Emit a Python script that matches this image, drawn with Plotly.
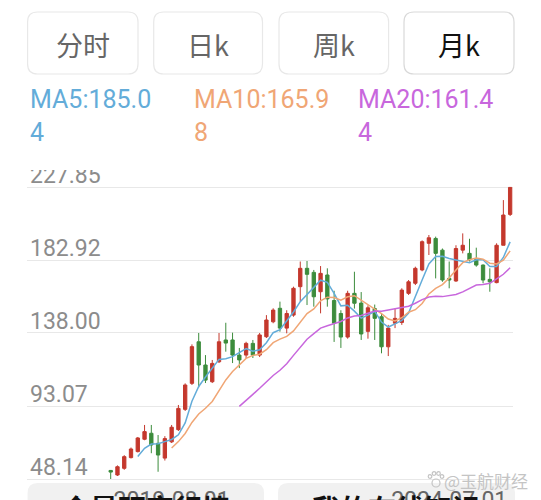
import plotly.graph_objects as go
import pandas as pd

W, H = 541, 500

# ---- data (monthly candles) ----
opens = [53.4, 50.6, 54.7, 61.3, 65.0, 72.6, 76.3, 70.1, 61.0, 71.0,
         78.5, 91.0, 107.0, 132.6, 118.3, 108.0, 120.3, 133.7, 133.7, 124.4,
         124.4, 131.6, 124.4, 135.7, 144.9, 153.2, 141.0, 149.0, 166.5, 177.8,
         175.3, 163.4, 173.7, 158.0, 150.0, 135.5, 162.4, 156.4, 139.0, 153.0,
         148.0, 129.5, 144.0, 144.5, 162.4, 168.6, 176.8, 193.2, 196.2, 189.0,
         171.6, 170.0, 189.0, 187.0, 183.3, 179.8, 171.0, 169.0, 192.0, 211.0]
highs = [53.7, 56.5, 62.8, 67.5, 74.0, 81.4, 81.4, 75.2, 74.5, 81.4,
         93.7, 107.0, 131.0, 138.0, 124.4, 121.4, 138.0, 144.3, 138.2, 128.8,
         132.6, 133.7, 138.0, 149.0, 153.2, 157.3, 152.0, 166.5, 182.0, 182.3,
         176.8, 179.2, 177.8, 164.0, 152.0, 164.0, 175.7, 163.2, 155.0, 155.5,
         150.3, 143.0, 153.0, 165.5, 170.6, 178.8, 195.0, 198.3, 197.3, 190.0,
         182.0, 192.0, 199.3, 196.0, 190.5, 180.2, 177.8, 193.2, 219.8, 227.85]
lows = [48.14, 50.0, 53.8, 60.8, 64.5, 72.0, 64.0, 52.6, 59.5, 70.3,
        77.7, 90.0, 106.0, 104.5, 107.2, 107.2, 119.5, 126.5, 119.5, 116.4,
        122.6, 122.6, 123.2, 134.9, 144.0, 138.8, 137.8, 148.0, 157.3, 155.2,
        154.2, 150.1, 154.2, 132.5, 128.8, 134.5, 153.0, 133.7, 134.5, 133.7,
        125.5, 123.8, 141.0, 143.0, 161.4, 167.5, 176.0, 186.0, 171.6, 169.5,
        165.5, 169.5, 187.0, 182.0, 178.8, 168.6, 163.4, 168.6, 192.0, 210.0]
closes = [52.4, 55.7, 61.9, 66.6, 73.4, 77.3, 69.1, 62.9, 73.0, 80.0,
          91.6, 106.0, 129.6, 118.3, 109.0, 119.3, 132.6, 131.8, 124.4, 121.4,
          131.6, 124.4, 136.8, 146.0, 152.1, 141.0, 150.0, 165.5, 177.8, 174.1,
          160.3, 174.7, 159.0, 144.0, 135.5, 162.4, 156.3, 137.4, 153.5, 147.0,
          129.5, 141.0, 147.0, 164.4, 169.5, 177.8, 194.2, 196.6, 187.0, 170.6,
          170.6, 190.0, 192.0, 183.0, 179.8, 170.6, 169.5, 192.0, 210.6, 227.6]
idx = list(range(len(closes)))

y_ticks = [48.14, 93.07, 138.00, 182.92, 227.85]
y_tick_text = ["48.14", "93.07", "138.00", "182.92", "227.85"]
x_tick_pos = [9, 50]
x_tick_text = ["2019-08-01", "2024-07-01"]

tabs = ["分时", "日k", "周k", "月k"]
ma_labels = ["MA5:185.0<br>4", "MA10:165.9<br>8", "MA20:161.4<br>4"]
bottom_buttons = ["全景研究行情", "我的在线知识"]
watermark = "@玉航财经"

# ---- colours ----
RED = "#c4382d"
GREEN = "#3c8c3c"
MA_COLORS = ["#63acd9", "#f0a675", "#c867dd"]

ma_periods = [5, 10, 20]
cs = pd.Series(closes)
mas = [cs.rolling(p).mean() for p in ma_periods]


def px(x):
    return x / W


def py(y):
    return 1 - y / H


def rrect(x0, y0, x1, y1, r):
    return (f"M {px(x0+r)},{py(y0)} L {px(x1-r)},{py(y0)} "
            f"Q {px(x1)},{py(y0)} {px(x1)},{py(y0+r)} L {px(x1)},{py(y1-r)} "
            f"Q {px(x1)},{py(y1)} {px(x1-r)},{py(y1)} L {px(x0+r)},{py(y1)} "
            f"Q {px(x0)},{py(y1)} {px(x0)},{py(y1-r)} L {px(x0)},{py(y0+r)} "
            f"Q {px(x0)},{py(y0)} {px(x0+r)},{py(y0)} Z")


fig = go.Figure()
fig.add_trace(go.Candlestick(
    x=idx, open=opens, high=highs, low=lows, close=closes,
    increasing=dict(line=dict(color=RED, width=1), fillcolor=RED),
    decreasing=dict(line=dict(color=GREEN, width=1), fillcolor=GREEN),
    whiskerwidth=0, showlegend=False, hoverinfo="skip",
))
for ma, col in zip(mas, MA_COLORS):
    fig.add_trace(go.Scatter(x=idx, y=ma, mode="lines",
                             line=dict(color=col, width=1.5),
                             showlegend=False, hoverinfo="skip"))

# pixel geometry
X0_PX, X_STEP = 110.7, 6.77
left_px, right_px = 27, 513
top_px, bot_px = 150, 482
y_scale = (479 - 187) / (227.85 - 48.14)
x_range = [-(X0_PX - left_px) / X_STEP, (right_px - X0_PX) / X_STEP]
y_range = [48.14 - (bot_px - 479) / y_scale, 48.14 + (479 - top_px) / y_scale]

shapes = []
btn_boxes = [(27.6, 12, 138, 74), (153.7, 12, 262.5, 74),
             (279, 12, 388.6, 74), (404, 12, 514, 74)]
for i, (a, b, c, d) in enumerate(btn_boxes):
    shapes.append(dict(type="path", xref="paper", yref="paper",
                       path=rrect(a, b, c, d, 10), fillcolor="white",
                       line=dict(color="#d9d9d9" if i == 3 else "#e8e8e8", width=1.2),
                       layer="below"))
for (a, b, c, d) in [(27.6, 483, 264, 520), (278, 483, 515, 520)]:
    shapes.append(dict(type="path", xref="paper", yref="paper",
                       path=rrect(a, b, c, d, 10), fillcolor="#f1f1f1",
                       line=dict(width=0), layer="below"))
# mask clipping top of the chart
shapes.append(dict(type="rect", xref="paper", yref="paper",
                   x0=0, x1=1, y0=py(170), y1=py(146),
                   fillcolor="white", line=dict(width=0), layer="above"))
# small paw icon of the watermark
for cx, cy, r in [(436, 483, 4), (430, 476.5, 1.8), (434, 473.5, 1.8),
                  (438.5, 473.5, 1.8), (442, 476.5, 1.8)]:
    shapes.append(dict(type="circle", xref="paper", yref="paper",
                       x0=px(cx - r), x1=px(cx + r), y0=py(cy + r), y1=py(cy - r),
                       fillcolor="rgba(255,255,255,0)",
                       line=dict(color="#c4c4c4", width=1.2), layer="above"))

annotations = []
FONT = "Roboto, Noto Sans CJK SC, sans-serif"
CJK = "Noto Sans CJK SC, sans-serif"
for i, t in enumerate(tabs):
    a, b, c, d = btn_boxes[i]
    annotations.append(dict(text=t, x=px((a + c) / 2), y=py(45), xref="paper", yref="paper",
                            showarrow=False, xanchor="center", yanchor="middle",
                            font=dict(family=CJK, size=27,
                                      color="#111111" if i == 3 else "#666666")))
for t, xx, col in zip(ma_labels, [27.6, 191.7, 355.8], MA_COLORS):
    annotations.append(dict(text=t, x=px(xx), y=py(116), xref="paper", yref="paper",
                            showarrow=False, xanchor="left", yanchor="middle", align="left",
                            font=dict(family=FONT, size=25, color=col)))
for t, xx in zip(bottom_buttons, [146, 396]):
    annotations.append(dict(text="<b>" + t + "</b>", x=px(xx), y=py(486), xref="paper",
                            yref="paper", showarrow=False, xanchor="center", yanchor="top",
                            font=dict(family=CJK, size=28, color="#111111")))
annotations.append(dict(text=watermark, x=px(530), y=py(480), xref="paper", yref="paper",
                        showarrow=False, xanchor="right", yanchor="middle",
                        font=dict(family=CJK, size=17, color="#c4c4c4")))

fig.update_layout(
    width=W, height=H, margin=dict(l=0, r=0, t=0, b=0, autoexpand=False),
    paper_bgcolor="white", plot_bgcolor="white",
    shapes=shapes, annotations=annotations, showlegend=False,
    xaxis=dict(domain=[px(left_px), px(right_px)], range=x_range, automargin=False,
               rangeslider=dict(visible=False), showgrid=False, zeroline=False,
               showline=False, ticks="", tickvals=x_tick_pos, ticktext=x_tick_text,
               ticklabelstandoff=2,
               tickfont=dict(family=FONT, size=23, color="#666666"), fixedrange=True),
    yaxis=dict(domain=[py(bot_px), py(top_px)], range=y_range, automargin=False,
               tickvals=y_ticks, ticktext=y_tick_text, showgrid=True,
               gridcolor="#e8e8e8", gridwidth=1.3, zeroline=False, showline=False,
               ticks="", ticklabelposition="inside", ticklabelshift=-12,
               ticklabelstandoff=0,
               tickfont=dict(family=FONT, size=23, color="#8c8c8c"), fixedrange=True),
)

fig.write_html("out.html")
